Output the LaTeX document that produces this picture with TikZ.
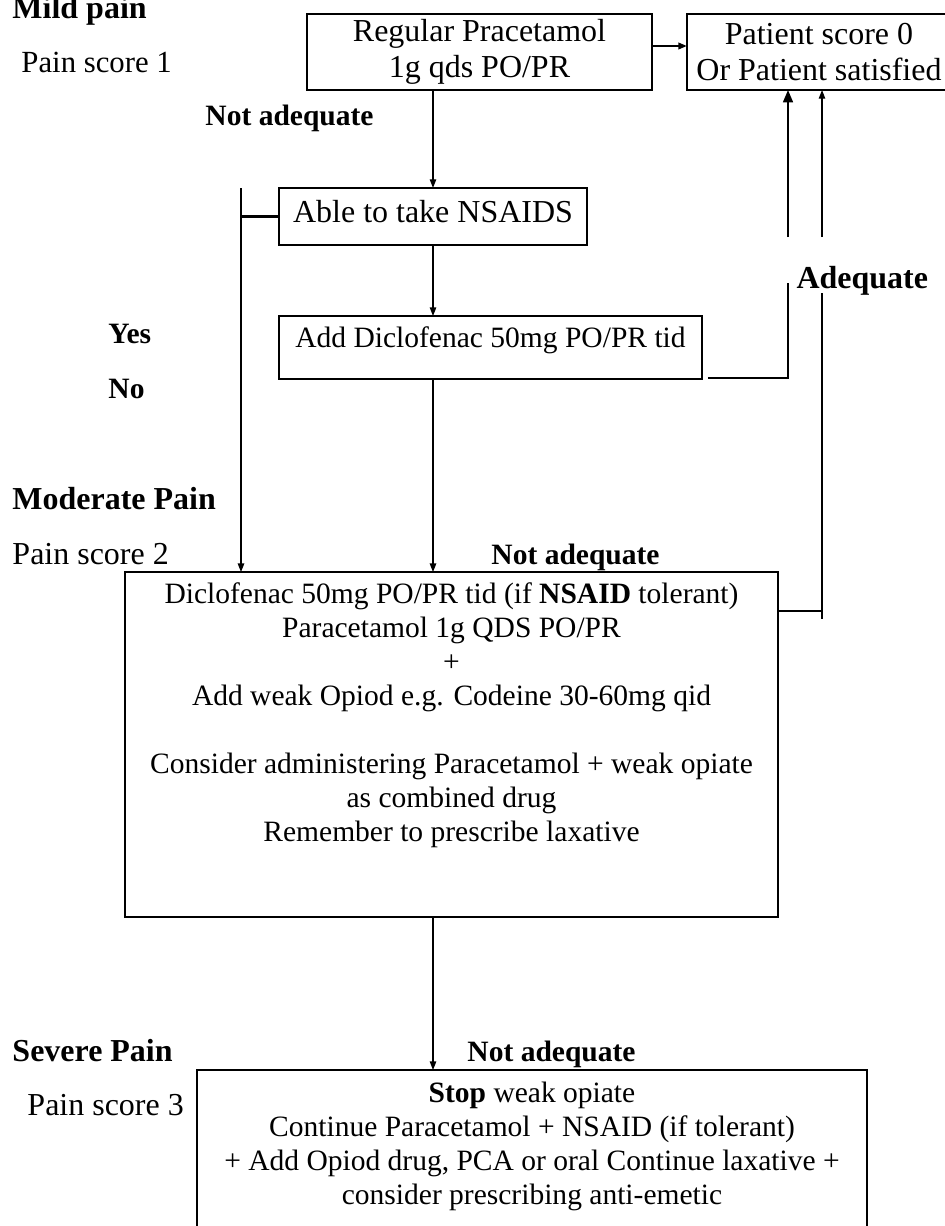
\documentclass[tikz,border=0pt]{standalone}
\usepackage{fontspec}
\setmainfont{Liberation Serif}
\usetikzlibrary{arrows.meta,positioning}

\begin{document}
\begin{tikzpicture}
      [
        x=0.4065pt, y=-0.4065pt,
        font=\fontsize{12}{13.8}\selectfont,
        Box/.style={draw, line width=0.6pt, inner sep=0pt, outer sep=0pt, align=center},
        BigBox/.style={Box, font=\fontsize{13}{14.5}\selectfont},
        BoxText/.style={inner sep=0pt, align=center, anchor=north},
        Stage/.style={anchor=base west, inner sep=0pt, font=\fontsize{13}{15}\selectfont\bfseries},
        Note/.style={anchor=base west, inner sep=0pt, font=\fontsize{12}{14}\selectfont\bfseries},
        Score/.style={anchor=base west, inner sep=0pt, font=\fontsize{13}{15}\selectfont},
        Flow/.style={-{Triangle[length=3.5pt, width=2.6pt]}, line width=0.5pt},
        BigFlow/.style={-{Triangle[length=5pt, width=4pt]}, line width=0.8pt},
        Stub/.style={line width=1pt},
      ]
      \useasboundingbox (0,0) rectangle (945,1226);
      \clip (0,0) rectangle (945,1226);

      % left hand labels
      \node [Stage] (mild) at (12,18) {Mild pain};
      \node [Score, font=\fontsize{12.5}{15}\selectfont] (score1) at (21,72) {Pain score 1};
      \node [Note] (notA) at (205,125) {Not adequate};
      \node [Note] (yes) at (108,343) {Yes};
      \node [Note] (no) at (108,398) {No};
      \node [Stage] (moderate) at (12,509) {Moderate Pain};
      \node [Score] (score2) at (12,564) {Pain score 2};
      \node [Note] (notB) at (491,564) {Not adequate};
      \node [Stage] (severe) at (12,1061) {Severe Pain};
      \node [Note] (notC) at (467,1061) {Not adequate};
      \node [Score] (score3) at (27,1115) {Pain score 3};
      \node [Stage] (adequate) at (796,288) {Adequate};

      % boxes
      \node [BigBox, minimum width=140.2pt, minimum height=30.9pt] (para) at (479.5,52) {Regular Pracetamol\\1g qds PO/PR};
      \node [BigBox, minimum width=107.3pt, minimum height=30.9pt] (done) at (819,52) {Patient score 0\\Or Patient satisfied};
      \node [BigBox, minimum width=125.2pt, minimum height=23.2pt, text height=8.5pt, text depth=4pt] (able) at (433,216.5) {Able to take NSAIDS};
      \node [Box, minimum width=172pt, minimum height=25.6pt, text height=9pt, text depth=9pt] (diclo) at (490.5,347.5) {Add Diclofenac 50mg PO/PR tid};
      \node [Box, minimum width=265.4pt, minimum height=140.2pt] (weak) at (451.5,744.5) {};
      \node [BoxText] (weakText) at ([yshift=-4.3pt]weak.north)
        {Diclofenac 50mg PO/PR tid (if \textbf{NSAID} tolerant)\\
         Paracetamol 1g QDS PO/PR\\
         +\\
         Add weak Opiod e.g. Codeine 30-60mg qid\\
         \mbox{}\\
         Consider administering Paracetamol + weak opiate\\
         as combined drug\\
         Remember to prescribe laxative};
      \node [Box, minimum width=272.4pt, minimum height=69.1pt] (strong) at (532,1155) {};
      \node [BoxText] (strongText) at ([yshift=-4.8pt]strong.north)
        {\textbf{Stop} weak opiate\\
         Continue Paracetamol + NSAID (if tolerant)\\
         + Add Opiod drug, PCA or oral Continue laxative +\\
         consider prescribing anti-emetic};

      % loose ends
      \coordinate (noTop) at (241,188);
      \coordinate (adqD) at (788,283);
      \coordinate (adqDup) at (788,237);
      \coordinate (adqE) at (822,293);
      \coordinate (adqEup) at (822,237);
      \coordinate (eOut) at (778,611);

      % connectors
      \draw [Flow, line width=0.9pt] (para.east |- 0,46) -- (done.west |- 0,46);
      \draw [Flow] (para.south -| able.north) -- (able.north);
      \draw [Flow] (able.south) -- (able.south |- diclo.north);
      \draw [Flow] (able.south |- diclo.south) -- (able.south |- weak.north);
      \draw [Flow] (able.south |- weak.south) -- (able.south |- strong.north);
      \draw [Stub] (able.west) -- (able.west -| noTop);
      \draw [Flow] (noTop) -- (noTop |- weak.north);
      \draw [line width=0.6pt] ([xshift=2.4pt,yshift=0.4pt]diclo.south east) -| (adqD);
      \draw [BigFlow] (adqDup) -- (adqDup |- done.south);
      \draw [Stub] (eOut) -- (eOut -| adqE);
      \draw [line width=0.6pt] (adqE) -- (adqE |- eOut) -- ++(0,8);
      \draw [Flow] (adqEup) -- (adqEup |- done.south);
\end{tikzpicture}
\end{document}
